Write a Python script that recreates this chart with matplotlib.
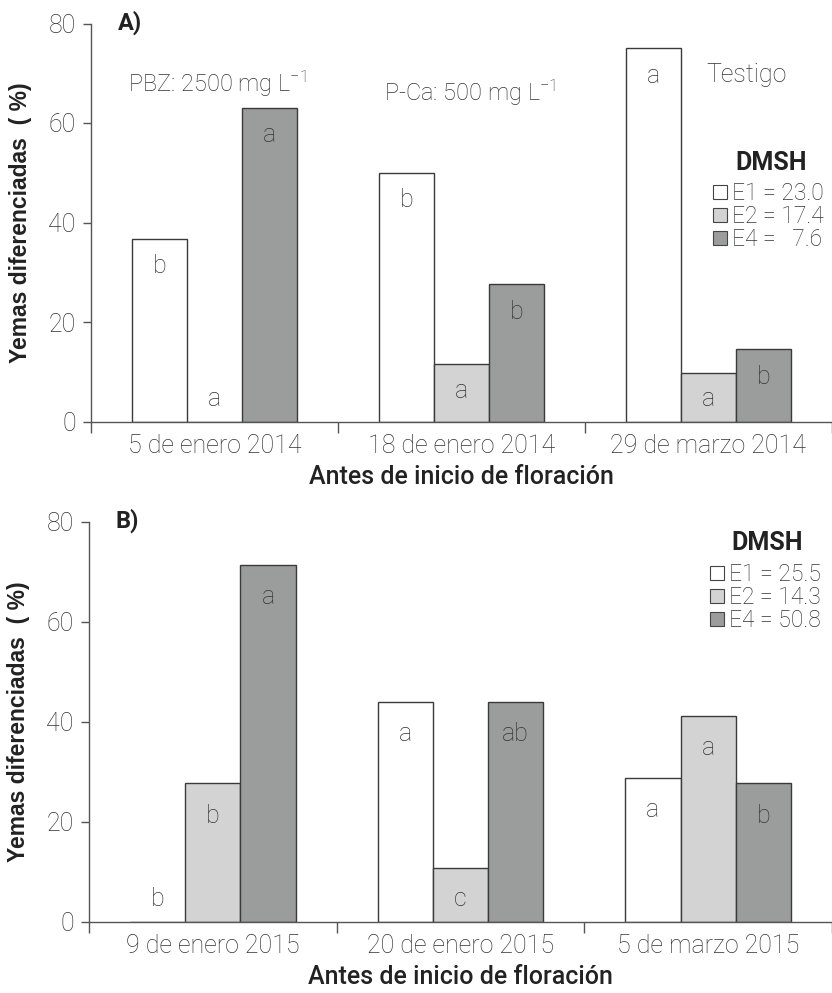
import matplotlib
matplotlib.use("Agg")
import matplotlib.pyplot as plt
from matplotlib.patches import Patch
import numpy as np

# Datos
fechas_a = ["5 de enero 2014", "18 de enero 2014", "29 de marzo 2014"]
e1_a = [36.7, 50.0, 75.0]
e2_a = [0.0, 11.6, 9.7]
e4_a = [63.0, 27.6, 14.5]
letras_e1_a = ["b", "b", "a"]
letras_e2_a = ["a", "a", "a"]
letras_e4_a = ["a", "b", "b"]
dmsh_a = ["E1 = 23.0", "E2 = 17.4", "E4 =   7.6"]

fechas_b = ["9 de enero 2015", "20 de enero 2015", "5 de marzo 2015"]
e1_b = [0.0, 44.0, 28.8]
e2_b = [27.7, 10.7, 41.2]
e4_b = [71.4, 44.0, 27.7]
letras_e1_b = ["b", "a", "a"]
letras_e2_b = ["b", "c", "a"]
letras_e4_b = ["a", "ab", "b"]
dmsh_b = ["E1 = 25.5", "E2 = 14.3", "E4 = 50.8"]

colores = ["white", "#d2d3d2", "#9b9d9c"]
borde = "#3a3a3a"
gris = "#333333"
fino = dict(family="Roboto", weight="light")

plt.rcParams["mathtext.fontset"] = "custom"
plt.rcParams["mathtext.rm"] = "Roboto:light"
plt.rcParams["mathtext.default"] = "regular"

fig = plt.figure(figsize=(8.32, 9.93), dpi=100)


def panel(ax, fechas, series, letras, offset, etiqueta):
    x = np.arange(len(fechas))
    w = 0.223
    for i, (vals, lets) in enumerate(zip(series, letras)):
        xs = x + (i - 1) * w
        ax.bar(xs, vals, width=w, color=colores[i], edgecolor=borde, linewidth=1.0)
        for xi, v, l in zip(xs, vals, lets):
            ax.text(xi, max(v - offset, 4.5), l, ha="center", va="center",
                    fontsize=18, color=gris, **fino)
    ax.set_xlim(-0.5, 2.47)
    ax.set_ylim(0, 80)
    ax.set_yticks([0, 20, 40, 60, 80])
    ax.set_xticks([-0.5, 0.5, 1.5, 2.5])
    ax.set_xticklabels([])
    ax.set_xticks(x, minor=True)
    ax.set_xticklabels(fechas, minor=True)
    ax.tick_params(axis="x", which="major", length=8, width=1, color="#555555")
    ax.tick_params(axis="x", which="minor", length=0, pad=9, labelsize=18, labelcolor=gris)
    ax.tick_params(axis="y", length=6, width=1, color="#555555", pad=5,
                   labelsize=18, labelcolor=gris)
    for t in ax.get_xticklabels(minor=True) + ax.get_yticklabels():
        t.set_fontfamily("Roboto")
        t.set_fontweight("light")
    for s in ["top", "right"]:
        ax.spines[s].set_visible(False)
    for s in ["left", "bottom"]:
        ax.spines[s].set_color("#555555")
        ax.spines[s].set_linewidth(1)
    ax.set_ylabel("Yemas diferenciadas  ( %)", fontsize=16.5, fontweight="bold",
                  family="Liberation Sans", color="#222222")
    ax.yaxis.set_label_coords(-0.08, 0.5)
    ax.set_xlabel("Antes de inicio de floración", fontsize=18, family="Roboto",
                  fontweight="medium", color="#222222", labelpad=5)
    ax.text(-0.392, 80.2, etiqueta, fontsize=17, fontweight="bold", family="Roboto",
            va="center", ha="left", color="#222222")


ax1 = fig.add_axes([91 / 832, 1 - 421.5 / 993, 1 - 91 / 832, 398 / 993])
panel(ax1, fechas_a, [e1_a, e2_a, e4_a], [letras_e1_a, letras_e2_a, letras_e4_a], 5.5, "A)")
ax1.text(-0.352, 68, "PBZ: 2500 mg L$^{-1}$", fontsize=17, va="center", color=gris, **fino)
ax1.text(0.688, 66.1, "P-Ca: 500 mg L$^{-1}$", fontsize=17, va="center", color=gris, **fino)
ax1.text(1.992, 69.6, "Testigo", fontsize=18, va="center", color=gris, **fino)

ax2 = fig.add_axes([89 / 832, 1 - 921.7 / 993, 1 - 89 / 832, 400 / 993])
panel(ax2, fechas_b, [e1_b, e2_b, e4_b], [letras_e1_b, letras_e2_b, letras_e4_b], 6.5, "B)")


def leyenda(ax, etiquetas, xpx, ypx, xt, yt):
    fig.text(xt / 832, 1 - yt / 993, "DMSH", fontsize=18, fontweight="bold",
             family="Roboto", va="center", ha="left", color="#222222")
    handles = [Patch(facecolor=c, edgecolor="#444444", linewidth=0.8) for c in colores]
    leg = ax.legend(handles, etiquetas, loc="upper left",
                    bbox_to_anchor=(xpx / 832, 1 - ypx / 993),
                    bbox_transform=fig.transFigure, frameon=False,
                    handlelength=0.62, handleheight=0.62, handletextpad=0.2,
                    labelspacing=0.0, borderpad=0, borderaxespad=0,
                    prop=dict(family="Roboto", weight="light", size=16.5))
    for t in leg.get_texts():
        t.set_color(gris)


leyenda(ax1, dmsh_a, 713, 182, 735, 163)
leyenda(ax2, dmsh_b, 710, 563, 731, 543)

fig.savefig("out.png", dpi=100)
